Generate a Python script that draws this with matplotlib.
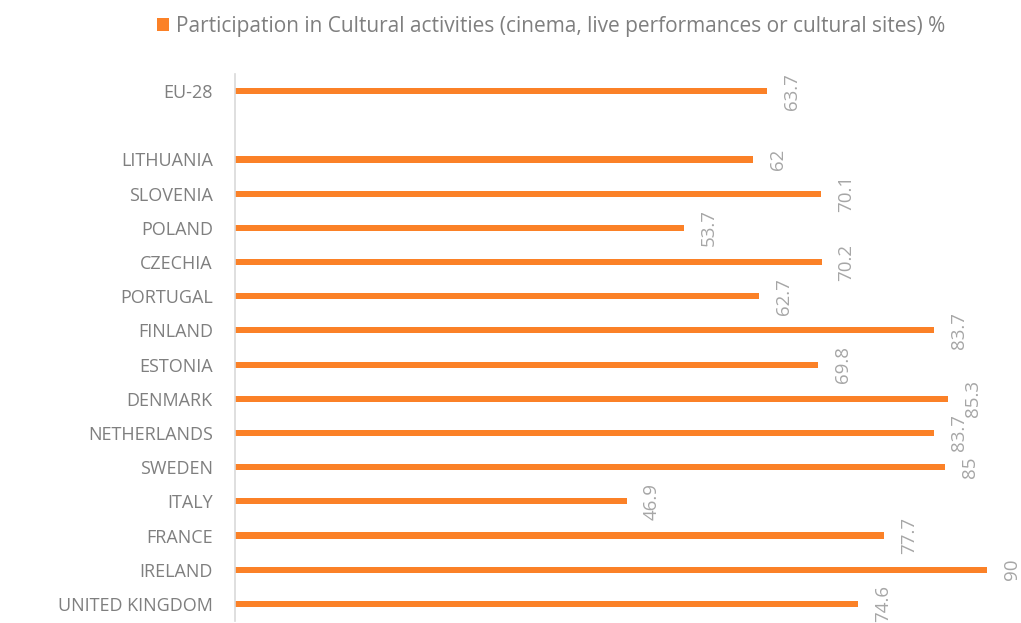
#!/usr/bin/env python
# -*- coding: utf-8 -*-

import numpy as np
import matplotlib.pyplot as plt

countries = ['EU-28', '', 'LITHUANIA', 'SLOVENIA', 'POLAND', 'CZECHIA',
             'PORTUGAL', 'FINLAND', 'ESTONIA', 'DENMARK', 'NETHERLANDS',
             'SWEDEN', 'ITALY', 'FRANCE', 'IRELAND', 'UNITED KINGDOM']
values = [63.7, np.nan, 62, 70.1, 53.7, 70.2, 62.7, 83.7, 69.8, 85.3,
          83.7, 85, 46.9, 77.7, 90, 74.6]
series_name = 'Participation in Cultural activities (cinema, live performances or cultural sites) %'


def main():
    plt.rcParams['font.family'] = ['Open Sans', 'DejaVu Sans']
    orange = '#FB8127'

    fig = plt.figure(figsize=(10.21, 6.23), dpi=100)
    W, H = 1021, 623
    ax = fig.add_axes([235 / W, 1 - 621 / H, 1 - 235 / W, (621 - 74) / H])

    pos = np.arange(len(countries))
    bars = ax.barh(pos, values, height=0.18, color=orange, label=series_name)

    for p, v in zip(pos, values):
        if np.isnan(v):
            continue
        ax.annotate('%g' % v, xy=(v, p), xytext=(18, 0), textcoords='offset points',
                    rotation=90, ha='center', va='center', fontsize=13.5,
                    color='#A6A6A6')

    ax.set_xlim(0, (W - 235) / (752 / 90))
    ax.set_ylim(len(countries) - 0.5, -0.5)
    ax.set_yticks(pos)
    ax.set_yticklabels(countries, fontsize=13, color='#7F7F7F')
    ax.tick_params(axis='y', length=0, pad=16)
    ax.set_xticks([])
    for s in ['top', 'right', 'bottom']:
        ax.spines[s].set_visible(False)
    ax.spines['left'].set_color('#D9D9D9')
    ax.spines['left'].set_linewidth(1.2)

    fig.legend(handles=[bars], labels=[series_name], loc='upper center',
               bbox_to_anchor=(551 / W, 1 + 3 / H), frameon=False, fontsize=15,
               labelcolor='#7F7F7F', handlelength=0.6, handleheight=0.6,
               handletextpad=0.3)

    plt.savefig('out.png', dpi=100)


if __name__ == '__main__':
    main()
